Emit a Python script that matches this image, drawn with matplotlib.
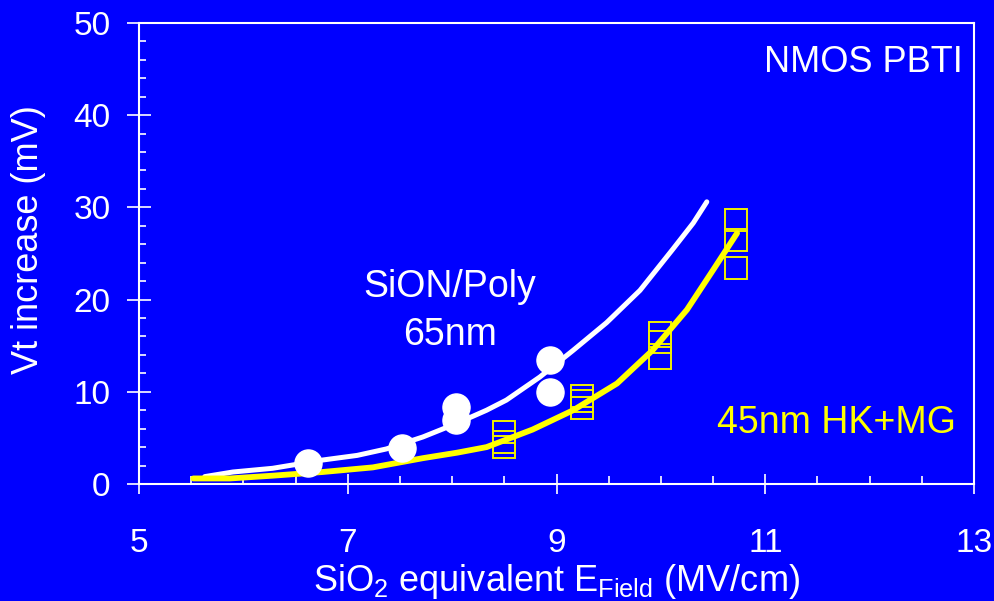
import matplotlib
matplotlib.use("Agg")
import matplotlib.pyplot as plt
from matplotlib.ticker import MultipleLocator

# fitted curves (E field in MV/cm, Vt shift in mV)
sion_fit_x = [5.63, 5.90, 6.28, 6.76, 7.09, 7.37, 7.72, 8.05, 8.33, 8.52, 8.84,
              9.16, 9.48, 9.80, 10.11, 10.31, 10.44]
sion_fit_y = [0.8, 1.3, 1.7, 2.6, 3.1, 3.8, 5.1, 6.6, 8.0, 9.1, 11.6,
              14.5, 17.5, 21.0, 25.4, 28.3, 30.6]
hkmg_fit_x = [5.52, 5.87, 6.28, 6.76, 7.24, 7.72, 8.05, 8.33, 8.77, 9.16, 9.58,
              9.92, 10.25, 10.50, 10.73]
hkmg_fit_y = [0.6, 0.6, 0.9, 1.3, 1.8, 2.8, 3.4, 4.0, 5.9, 8.0, 10.9,
              14.5, 18.9, 23.2, 27.2]

# measured points
sion_x = [6.62, 7.52, 8.04, 8.04, 8.94, 8.94]
sion_y = [2.3, 3.9, 8.3, 6.9, 13.4, 10.0]
hkmg_x = [8.50, 8.50, 8.50, 9.24, 9.24, 9.24, 9.99, 9.99, 9.99, 10.72, 10.72, 10.72]
hkmg_y = [5.6, 4.6, 4.0, 9.5, 9.0, 8.2, 16.4, 15.4, 13.7, 28.6, 26.5, 23.4]

x_ticks = [5, 7, 9, 11, 13]

plt.rcParams['font.family'] = ['Liberation Sans', 'DejaVu Sans']
plt.rcParams['mathtext.fontset'] = 'custom'
plt.rcParams['mathtext.rm'] = 'Liberation Sans'
plt.rcParams['mathtext.it'] = 'Liberation Sans'
plt.rcParams['mathtext.default'] = 'regular'

blue = '#0000FF'
fig = plt.figure(figsize=(9.95, 6.01), dpi=100, facecolor=blue)
ax = fig.add_axes([0.1397, 0.1947, 0.8392, 0.7671], facecolor=blue)

ax.plot(sion_fit_x, sion_fit_y, color='white', lw=3.6, solid_capstyle='round',
        solid_joinstyle='round', zorder=2)
ax.plot(hkmg_x, hkmg_y, linestyle='none', marker='s', ms=16, mfc='none',
        mec='#F0F000', mew=1.4, zorder=2)
ax.plot(hkmg_fit_x, hkmg_fit_y, color='#FFFF00', lw=4.2, solid_capstyle='round',
        solid_joinstyle='round', zorder=3)
ax.plot(sion_x, sion_y, linestyle='none', marker='o', ms=19.5, color='white', zorder=4)

ax.set_xlim(5, 13)
ax.set_ylim(0, 50)
ax.set_xticks(x_ticks)
ax.xaxis.set_minor_locator(MultipleLocator(0.5))
ax.yaxis.set_major_locator(MultipleLocator(10))
ax.yaxis.set_minor_locator(MultipleLocator(2))

for s in ax.spines.values():
    s.set_color('white')
    s.set_linewidth(1.5)

ax.tick_params(which='major', direction='inout', color='white', width=1.2,
               labelcolor='white', labelsize=24)
ax.tick_params(axis='x', which='major', length=15, pad=24)
ax.tick_params(axis='y', which='major', length=17, pad=12)
ax.tick_params(which='minor', direction='in', color='white', width=1.2)
ax.tick_params(axis='x', which='minor', length=6)
ax.tick_params(axis='y', which='minor', length=5)

ax.set_xlabel('SiO$_2$ equivalent E$_{Field}$ (MV/cm)', color='white', fontsize=26, labelpad=2)
ax.set_ylabel('Vt increase (mV)', color='white', fontsize=26, labelpad=20, y=0.53)

ax.text(7.98, 20.3, 'SiON/Poly', color='white', fontsize=27, ha='center', va='baseline')
ax.text(7.98, 15.1, '65nm', color='white', fontsize=27, ha='center', va='baseline')
ax.text(12.89, 44.7, 'NMOS PBTI', color='white', fontsize=26, ha='right', va='baseline')
ax.text(12.83, 5.5, '45nm HK+MG', color='#FFFF00', fontsize=27, ha='right', va='baseline')

fig.savefig('out.png', dpi=100, facecolor=blue)
